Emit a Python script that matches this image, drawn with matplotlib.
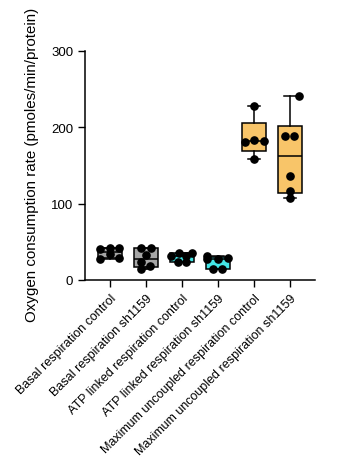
import numpy as np
import matplotlib
matplotlib.use("Agg")
import matplotlib.pyplot as plt

plt.rcParams['font.family'] = ['Liberation Sans', 'DejaVu Sans']

# Group labels and measured values (pmoles/min/protein)
groups = ['Basal respiration control', 'Basal respiration sh1159',
          'ATP linked respiration control', 'ATP linked respiration sh1159',
          'Maximum uncoupled respiration control', 'Maximum uncoupled respiration sh1159']
basal_ctrl = [40, 42, 42, 34, 28, 29]
basal_sh = [42, 42, 33, 23, 18, 15]
atp_ctrl = [32, 35, 35, 23, 23, 31]
atp_sh = [31, 27, 29, 28, 14, 15]
max_ctrl = [228, 181, 184, 182, 158]
max_sh = [241, 188, 188, 136, 117, 107]
values = [basal_ctrl, basal_sh, atp_ctrl, atp_sh, max_ctrl, max_sh]

# horizontal scatter of the dots inside each box
jitter = [[-0.28, 0, 0.26, 0, -0.28, 0.26],
          [-0.14, 0.13, 0, -0.14, 0.11, -0.14],
          [-0.3, -0.08, 0.28, -0.12, 0.12, 0.1],
          [-0.3, 0, 0.27, -0.3, -0.14, 0.11],
          [0, -0.25, 0, 0.28, 0],
          [0.25, -0.14, 0.12, 0, 0, 0]]
colors = ['#a6a6a6', '#a6a6a6', '#44e6e6', '#44e6e6', '#f8c569', '#f8c569']

fig = plt.figure(figsize=(3.62, 4.77), dpi=100)
ax = fig.add_axes([0.235, 0.411, 0.635, 0.48])

# Prism-style quartiles, whiskers min to max
stats = []
for v in values:
    q1, med, q3 = np.percentile(v, [25, 50, 75], method='weibull')
    stats.append(dict(med=med, q1=q1, q3=q3, whislo=min(v), whishi=max(v), fliers=[]))
pos = np.arange(1, len(groups) + 1)
bp = ax.bxp(stats, positions=pos, widths=0.68, patch_artist=True, showfliers=False,
            boxprops=dict(linewidth=1.1, edgecolor='black'),
            medianprops=dict(color='black', linewidth=1.1),
            whiskerprops=dict(linewidth=1.1), capprops=dict(linewidth=1.1),
            capwidths=0.34)
for patch, c in zip(bp['boxes'], colors):
    patch.set_facecolor(c)

for p, v, j in zip(pos, values, jitter):
    ax.plot(p + np.array(j), v, 'o', color='black', markersize=5.2, zorder=3)

ax.set_xlim(0.31, 6.69)
ax.set_ylim(0, 300)
ax.set_yticks([0, 100, 200, 300])
ax.set_xticks(pos)
ax.set_xticklabels(groups, rotation=45, ha='right', rotation_mode='anchor', fontsize=9)
ax.tick_params(axis='y', labelsize=9.5, length=5, width=1)
ax.tick_params(axis='x', length=5, width=1)
ax.set_ylabel('Oxygen consumption rate (pmoles/min/protein)', fontsize=10.9)
ax.yaxis.set_label_coords(-0.2, 0.505)
ax.spines['top'].set_visible(False)
ax.spines['right'].set_visible(False)
ax.spines['left'].set_linewidth(1.1)
ax.spines['bottom'].set_linewidth(1.1)

fig.savefig('out.png', dpi=100)
